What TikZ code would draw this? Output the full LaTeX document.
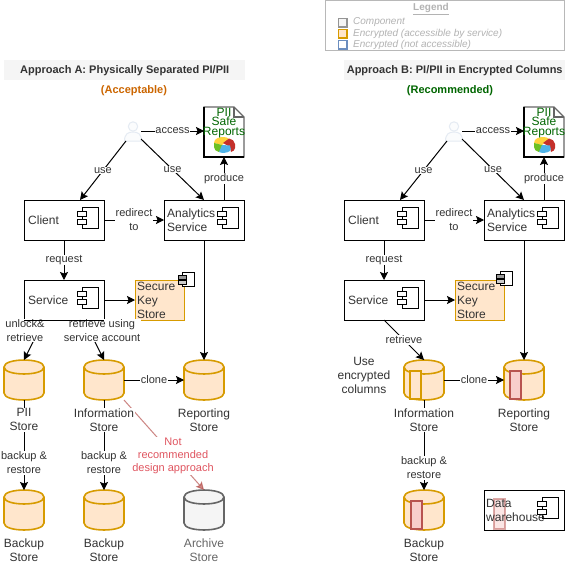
\documentclass[tikz,border=0pt]{standalone}
\usepackage{fontspec}
\setmainfont{Liberation Sans}
\usetikzlibrary{arrows.meta,calc}
\definecolor{txt}{HTML}{333333}
\definecolor{ofill}{HTML}{FFE6CC}
\definecolor{ostroke}{HTML}{D79B00}
\definecolor{rfill}{HTML}{F8CECC}
\definecolor{rstroke}{HTML}{B85450}
\definecolor{gfill}{HTML}{F5F5F5}
\definecolor{gstroke}{HTML}{666666}
\definecolor{bfill}{HTML}{FFFFFF}
\definecolor{bstroke}{HTML}{6C8EBF}
\definecolor{legtxt}{HTML}{B3B3B3}
\definecolor{leggray}{HTML}{999999}
\definecolor{greenT}{HTML}{006600}
\definecolor{orangeT}{HTML}{CC6600}
\definecolor{redT}{HTML}{E05560}
\definecolor{pieY}{HTML}{FFD23C}
\definecolor{pieR}{HTML}{C4302B}
\definecolor{pieG}{HTML}{6CC024}
\definecolor{pieB}{HTML}{4FB3E8}
\newcommand{\storeat}[5]{%
  \node[storebase] (#1) at (#2,#3) {};
  \pic at (#1.center) {cyl={#4}{#5}};
}
\tikzset{
  x=1pt,y=-1pt,
  f12/.style={font=\fontsize{12}{14}\selectfont},
  compbox/.style={draw=black,fill=white,line width=1pt,minimum width=80pt,minimum height=40pt,inner sep=0pt,outer sep=0pt,anchor=north west},
  boxtext/.style={f12,text=txt,align=left,anchor=west,inner sep=0pt},
  keybox/.style={draw=ostroke,fill=ofill,line width=1pt,minimum width=49pt,minimum height=40pt,inner sep=0pt,outer sep=0pt,anchor=north west},
  storebase/.style={minimum width=40pt,minimum height=40pt,inner sep=0pt,outer sep=0pt},
  pics/cyl/.style 2 args={code={
    \draw[draw=#2,fill=#1,line width=1.6pt] (-20,-13) .. controls (-20,-22.3) and (20,-22.3) .. (20,-13) -- (20,13) .. controls (20,22.3) and (-20,22.3) .. (-20,13) -- cycle;
    \draw[draw=#2,line width=1.6pt] (-20,-13) .. controls (-20,-3.7) and (20,-3.7) .. (20,-13);
  }},
  arr/.style={draw=black,line width=1pt,-{Stealth[length=8pt,width=8pt,inset=1.5pt]}},
  lab/.style={font=\fontsize{11}{14}\selectfont,fill=white,text=txt,align=center,inner sep=0.6pt},
  stlab/.style={f12,fill=white,text=txt,align=center,inner sep=0.6pt},
  plainlab/.style={f12,text=txt,align=center,inner sep=0pt},
  banner/.style={fill=gfill,minimum height=20pt,inner sep=0pt,anchor=north west,text=txt},
  sub/.style={font=\fontsize{11}{13}\selectfont\bfseries,inner sep=0pt},
  legtext/.style={font=\fontsize{10}{12}\selectfont\itshape,text=legtxt,anchor=west,inner sep=0pt},
  legsw/.style={minimum size=8.5pt,inner sep=0pt,line width=1.5pt,anchor=north west},
  column/.style={line width=1.5pt,minimum width=11pt,inner sep=0pt,outer sep=0pt,anchor=north west},
  doc/.style={minimum width=40pt,minimum height=50pt,inner sep=0pt,outer sep=0pt,anchor=north west},
  doctext/.style={font=\fontsize{12}{9.5}\selectfont,text=greenT,align=center,inner sep=0pt},
  pics/compicon/.style={code={
    \draw[black,fill=white,line width=1pt] (58,7) rectangle (74,28);
    \draw[black,fill=white,line width=1pt] (53,11) rectangle (62,16);
    \draw[black,fill=white,line width=1pt] (53,19) rectangle (62,24);
  }},
  pics/smallicon/.style={code={
    \draw[black,fill=white,line width=1pt] (4,0) rectangle (16,14);
    \draw[black,fill=gray!80,line width=.8pt] (0,3) rectangle (8,7);
    \draw[black,fill=gray!40,line width=.8pt] (0,8) rectangle (8,12);
  }},
  pics/usericon/.style={code={
    \draw[draw=bstroke!18,fill=bstroke!3,line width=1pt] (0,-4.5) circle[radius=4.7];
    \draw[draw=bstroke!18,fill=bstroke!3,line width=1pt] (-8.5,10) .. controls (-8.5,3) and (-5,1) .. (0,1) .. controls (5,1) and (8.5,3) .. (8.5,10) -- cycle;
  }},
  pics/reportdoc/.style={code={
    \draw[draw=gstroke,fill=white,line width=1.2pt] (0,0) -- (30,0) -- (40,10) -- (40,50) -- (0,50) -- cycle;
    \draw[draw=gstroke,line width=1.2pt] (30,0) -- (30,10) -- (40,10);
    \draw[black,line width=1.2pt] (0,0) -- (0,50) -- (40,50);
    \fill[pieY] (10,36) .. controls (10,31) and (16,30) .. (20,30) .. controls (22,30) and (24,31) .. (25,32) -- (19,37) -- (18,38) -- cycle;
    \fill[pieR] (25,31.5) .. controls (28,32) and (31,34) .. (31,37) -- (31,41) .. controls (31,43) and (29,44.5) .. (27,45) -- (26,40) -- (19,36) -- cycle;
    \fill[pieG] (10,36) -- (18,38) -- (20,39) -- (15,45) .. controls (12,45) and (10,42) .. (10,40) -- cycle;
    \fill[pieB] (18,38) -- (26,38.5) .. controls (27,41) and (27,43) .. (26,44) .. controls (23,46) and (18,46.5) .. (15,45) -- cycle;
  }},
}
\begin{document}
\begin{tikzpicture}
\useasboundingbox (0,0) rectangle (565,567);
\fill[white] (0,0) rectangle (565,567);

% legend
\node[draw=leggray!70,line width=1pt,minimum width=239pt,minimum height=50pt,inner sep=0pt,anchor=north west] (legend) at (325,0.5) {};
\node[font=\fontsize{10}{12}\selectfont\bfseries,text=legtxt,inner sep=0pt] (legtitle) at (431,9) {\underline{Legend}};
\node[legsw,draw=gstroke!70,fill=gfill] (leg1) at (337.75,17.75) {};
\node[legsw,draw=ostroke,fill=ofill] (leg2) at (337.75,28.75) {};
\node[legsw,draw=bstroke,fill=bfill] (leg3) at (337.75,39.75) {};
\node[legtext] (legt1) at (353,22) {Component};
\node[legtext] (legt2) at (353,34) {Encrypted (accessible by service)};
\node[legtext] (legt3) at (353,45) {Encrypted (not accessible)};

% banners
\node[banner,minimum width=241pt,font=\fontsize{11}{13}\selectfont\bfseries] (banA) at (4,60) {Approach A: Physically Separated PI/PII};
\node[banner,minimum width=221pt,font=\fontsize{11}{13}\selectfont\bfseries] (banB) at (344,60) {Approach B: PI/PII in Encrypted Columns};
\node[sub,text=orangeT] (subA) at (134,91) {(Acceptable)};
\node[sub,text=greenT] (subB) at (450,91) {(Recommended)};

% ---------- Approach A ----------
\coordinate (userA) at (133,131);
\coordinate (userAa) at (141,131);
\coordinate (userAl) at (126,141);
\coordinate (userAr) at (141,139);
\pic at (userA) {usericon};
\pic at (204,107) {reportdoc};
\node[doc] (docA) at (204,107) {};
\node[doctext] (docAt) at (224,123) {PII\\Safe\\Reports};

\node[compbox] (clientA) at (24,200) {};
\pic at (clientA.north west) {compicon};
\node[boxtext] (clientAt) at (28,220) {Client};
\node[compbox] (anaA) at (164,200) {};
\pic at (anaA.north west) {compicon};
\node[boxtext] (anaAt) at (167,220) {Analytics\\Service};
\node[compbox] (svcA) at (24,280) {};
\pic at (svcA.north west) {compicon};
\node[boxtext] (svcAt) at (28,300) {Service};
\node[keybox] (keyA) at (135,280) {};
\pic at (178,272) {smallicon};
\node[boxtext] (keyAt) at (137,300) {Secure\\Key\\Store};

\storeat{piiA}{24}{380}{ofill}{ostroke}
\storeat{infoA}{104}{380}{ofill}{ostroke}
\storeat{repA}{204}{380}{ofill}{ostroke}
\storeat{bkoA}{24}{510}{ofill}{ostroke}
\storeat{bktA}{104}{510}{ofill}{ostroke}
\storeat{arcA}{204}{510}{gfill}{gstroke}

\draw[arr] (userAa) -- node[lab] (l1) {access} (docA.west |- userAa);
\draw[arr] (userAl) -- node[lab] (l2) {use} ($(clientA.north)+(16,0)$);
\draw[arr] (userAr) -- node[lab] (l3) {use} (anaA.north);
\draw[arr] (clientA.east) -- node[lab] (l4) {redirect\\to} (anaA.west);
\draw[arr] (anaA.north -| docA.south) -- node[lab] (l5) {produce} (docA.south);
\draw[arr] (clientA.south) -- node[lab] (l6) {request} (svcA.north);
\draw[arr] (svcA.east) -- (keyA.west);
\draw[arr] ($(svcA.south)+(-20,0)$) -- (piiA.north);
\draw[arr] ($(svcA.south)+(20,0)$) -- (infoA.north);
\node[lab] (l7) at (25,330.5) {unlock\&\\retrieve};
\node[lab] (l8) at (102,330.5) {retrieve using\\service account};
\draw[black,line width=1pt] (svcA.south west) -- (svcA.south east);
\draw[arr] (anaA.south) -- (repA.north);
\draw[arr] (infoA.east) -- node[lab] (l9) {clone} (repA.west);
\draw[draw=rstroke,opacity=.7,line width=1pt,-{Stealth[length=8pt,width=8pt,inset=1.5pt]}] (infoA.south east) -- (arcA.north);
\node[lab,font=\fontsize{11}{13}\selectfont,text=redT] (l10) at (173,456) {Not\\recommended\\design approach};
\draw[arr] (piiA.south) -- node[stlab,pos=.22] (s1) {PII\\Store} node[lab,pos=.7] (l11) {backup \&\\restore} (bkoA.north);
\draw[arr] (infoA.south) -- node[stlab,pos=.22] (s2) {Information\\Store} node[lab,pos=.7] (l12) {backup \&\\restore} (bktA.north);
\node[plainlab] (s3) at (204,420) {Reporting\\Store};
\node[plainlab] (s4) at (24,550) {Backup\\Store};
\node[plainlab] (s5) at (104,550) {Backup\\Store};
\node[plainlab,text=gstroke] (s6) at (204,550) {Archive\\Store};

% ---------- Approach B ----------
\coordinate (userB) at (454,131);
\coordinate (userBa) at (462,131);
\coordinate (userBl) at (447,141);
\coordinate (userBr) at (462,139);
\pic at (userB) {usericon};
\pic at (524,107) {reportdoc};
\node[doc] (docB) at (524,107) {};
\node[doctext] (docBt) at (544,123) {PII\\Safe\\Reports};

\node[compbox] (clientB) at (344,200) {};
\pic at (clientB.north west) {compicon};
\node[boxtext] (clientBt) at (348,220) {Client};
\node[compbox] (anaB) at (484,200) {};
\pic at (anaB.north west) {compicon};
\node[boxtext] (anaBt) at (487,220) {Analytics\\Service};
\node[compbox] (svcB) at (344,280) {};
\pic at (svcB.north west) {compicon};
\node[boxtext] (svcBt) at (348,300) {Service};
\node[keybox] (keyB) at (455,280) {};
\pic at (496,271) {smallicon};
\node[boxtext] (keyBt) at (457,300) {Secure\\Key\\Store};

\storeat{infoB}{424}{380}{ofill}{ostroke}
\storeat{repB}{524}{380}{ofill}{ostroke}
\storeat{bkB}{424}{510}{ofill}{ostroke}
\node[column,draw=ostroke,fill=ofill,minimum height=28pt] (colI) at (410,371) {};
\node[column,draw=rstroke,fill=rfill,minimum height=28pt] (colR) at (510,371) {};
\node[column,draw=rstroke,fill=rfill,minimum height=28pt] (colK) at (411,501) {};

\draw[arr] (userBa) -- node[lab] (m1) {access} (docB.west |- userBa);
\draw[arr] (userBl) -- node[lab] (m2) {use} ($(clientB.north)+(16,0)$);
\draw[arr] (userBr) -- node[lab] (m3) {use} (anaB.north);
\draw[arr] (clientB.east) -- node[lab] (m4) {redirect\\to} (anaB.west);
\draw[arr] (anaB.north -| docB.south) -- node[lab] (m5) {produce} (docB.south);
\draw[arr] (clientB.south) -- node[lab] (m6) {request} (svcB.north);
\draw[arr] (svcB.east) -- (keyB.west);
\draw[arr] (svcB.south) -- node[lab] (m7) {retrieve} (infoB.north);
\draw[arr] (anaB.south) -- (repB.north);
\draw[arr] (infoB.east) -- node[lab] (m8) {clone} (repB.west);
\draw[arr] (infoB.south) -- node[stlab,pos=.22] (t1) {Information\\Store} node[lab,pos=.756] (m9) {backup \&\\restore} (bkB.north);
\node[plainlab] (t2) at (364,375) {Use\\encrypted\\columns};
\node[plainlab] (t3) at (524,420) {Reporting\\Store};
\node[plainlab] (t4) at (424,550) {Backup\\Store};

\node[compbox] (dwB) at (484,490) {};
\pic at (dwB.north west) {compicon};
\node[column,draw=rstroke,fill=rfill,opacity=.5,minimum height=30pt] (colD) at (494,499) {};
\node[boxtext] (dwt) at (486,510) {Data\\warehouse};
\end{tikzpicture}
\end{document}
